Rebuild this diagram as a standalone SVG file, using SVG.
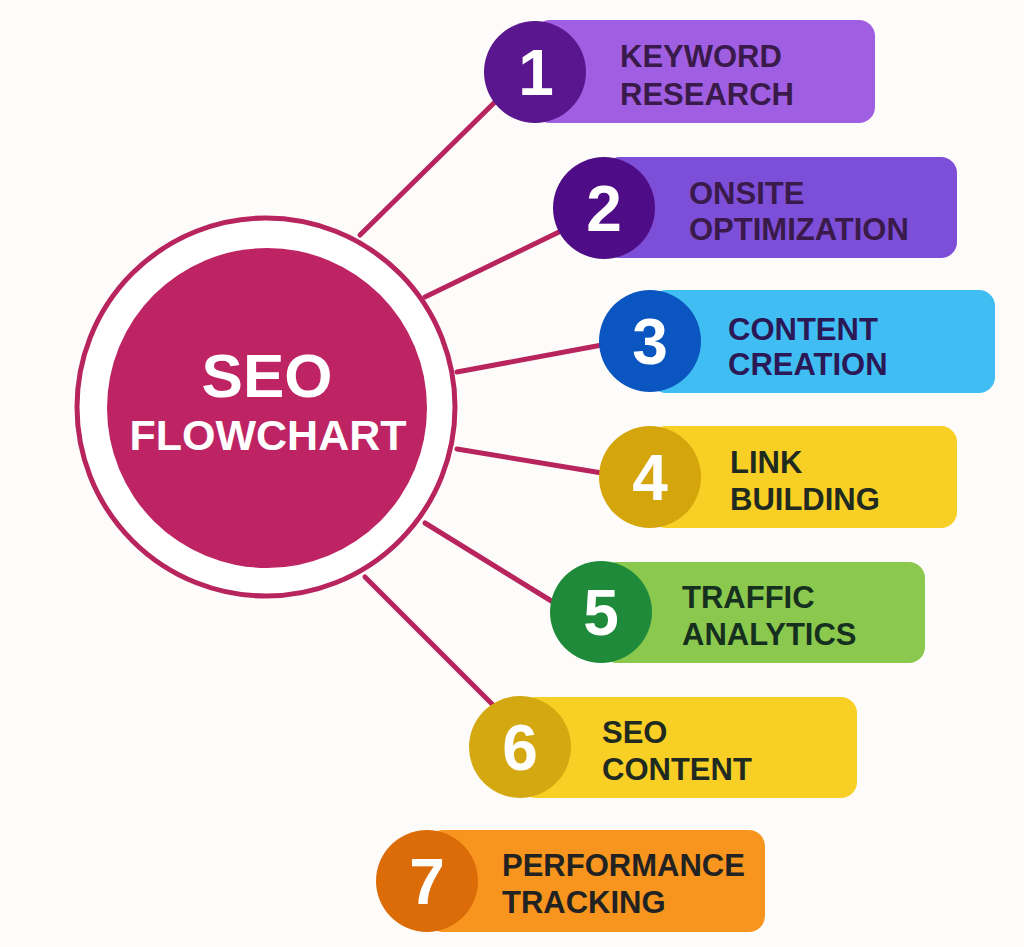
<svg xmlns="http://www.w3.org/2000/svg" width="1024" height="947" viewBox="0 0 1024 947">
<style>
.lbl{font-family:"Liberation Sans",Arial,sans-serif;font-weight:bold;font-size:31px}
.num{font-family:"Liberation Sans",Arial,sans-serif;font-weight:bold;font-size:64px;fill:#ffffff;text-anchor:middle}
.conn{stroke:#b8245e;stroke-width:5;stroke-linecap:round;fill:none}
</style>
<rect width="1024" height="947" fill="#fdfcfa"/>
<g id="connectors">
<line class="conn" x1="360" y1="235" x2="496" y2="101"/>
<line class="conn" x1="425" y1="297" x2="559" y2="232"/>
<line class="conn" x1="457" y1="372" x2="602" y2="345"/>
<line class="conn" x1="457" y1="449" x2="602" y2="473"/>
<line class="conn" x1="425" y1="523" x2="553" y2="602"/>
<line class="conn" x1="365" y1="577" x2="493" y2="705"/>
</g>
<g id="center">
<circle cx="266" cy="407" r="189" fill="#ffffff" stroke="#b8245e" stroke-width="5"/>
<circle cx="267" cy="408" r="160" fill="#be2463"/>
<text x="267" y="397" text-anchor="middle" font-family="Liberation Sans, Arial, sans-serif" font-weight="bold" font-size="62" fill="#ffffff">SEO</text>
<text x="268" y="450" text-anchor="middle" font-family="Liberation Sans, Arial, sans-serif" font-weight="bold" font-size="43" fill="#ffffff">FLOWCHART</text>
</g>
<g id="step1">
<rect x="534" y="20" width="341" height="103" rx="16" fill="#a05fe2"/>
<circle cx="535" cy="72" r="51" fill="#5a168e"/>
<text class="num" x="536" y="95">1</text>
<text class="lbl" x="620" y="67" fill="#3a1a4a">KEYWORD</text>
<text class="lbl" x="620" y="105" fill="#3a1a4a">RESEARCH</text>
</g>
<g id="step2">
<rect x="604" y="157" width="353" height="101" rx="16" fill="#7d4fd8"/>
<circle cx="604" cy="208" r="51" fill="#4e0d86"/>
<text class="num" x="604" y="231">2</text>
<text class="lbl" x="689" y="204" fill="#3a1a4a">ONSITE</text>
<text class="lbl" x="689" y="240" fill="#3a1a4a">OPTIMIZATION</text>
</g>
<g id="step3">
<rect x="650" y="290" width="345" height="103" rx="16" fill="#40bdf2"/>
<circle cx="650" cy="341" r="51" fill="#0b55c0"/>
<text class="num" x="650" y="364">3</text>
<text class="lbl" x="728" y="340" fill="#2b1856">CONTENT</text>
<text class="lbl" x="728" y="375" fill="#2b1856">CREATION</text>
</g>
<g id="step4">
<rect x="650" y="426" width="307" height="102" rx="16" fill="#f8cf25"/>
<circle cx="650" cy="477" r="51" fill="#d5a50c"/>
<text class="num" x="650" y="500">4</text>
<text class="lbl" x="730" y="473" fill="#1f2a20">LINK</text>
<text class="lbl" x="730" y="510" fill="#1f2a20">BUILDING</text>
</g>
<g id="step5">
<rect x="601" y="562" width="324" height="101" rx="16" fill="#8bc84e"/>
<circle cx="601" cy="612" r="51" fill="#1f8a3a"/>
<text class="num" x="601" y="635">5</text>
<text class="lbl" x="682" y="608" fill="#15301e">TRAFFIC</text>
<text class="lbl" x="682" y="645" fill="#15301e">ANALYTICS</text>
</g>
<g id="step6">
<rect x="520" y="697" width="337" height="101" rx="16" fill="#f8d025"/>
<circle cx="520" cy="747" r="51" fill="#d4a810"/>
<text class="num" x="520" y="770">6</text>
<text class="lbl" x="602" y="743" fill="#1f2a20">SEO</text>
<text class="lbl" x="602" y="780" fill="#1f2a20">CONTENT</text>
</g>
<g id="step7">
<rect x="427" y="830" width="338" height="102" rx="16" fill="#f7951f"/>
<circle cx="427" cy="881" r="51" fill="#dc6c08"/>
<text class="num" x="427" y="904">7</text>
<text class="lbl" x="502" y="876" fill="#222222">PERFORMANCE</text>
<text class="lbl" x="502" y="913" fill="#222222">TRACKING</text>
</g>
</svg>
